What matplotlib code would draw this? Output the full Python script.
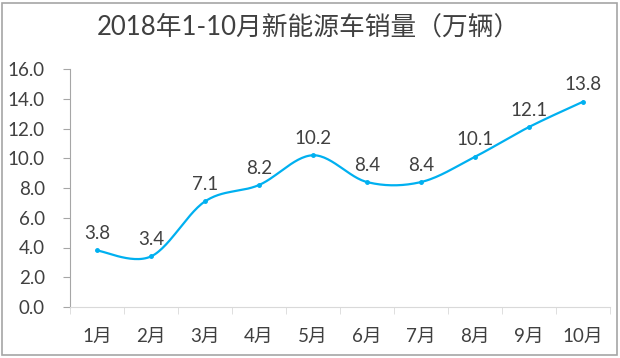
import numpy as np
import matplotlib.pyplot as plt
from matplotlib.patches import Rectangle

# 数据
months = ['1月', '2月', '3月', '4月', '5月', '6月', '7月', '8月', '9月', '10月']
sales = [3.8, 3.4, 7.1, 8.2, 10.2, 8.4, 8.4, 10.1, 12.1, 13.8]
yticks = [0, 2, 4, 6, 8, 10, 12, 14, 16]

plt.rcParams['font.family'] = ['Lato', 'Noto Sans CJK SC', 'DejaVu Sans']
text_color = '#404040'
line_color = '#00B0F0'


# 类似Excel的平滑曲线（三次贝塞尔）
def smooth(xs, ys, n=30):
    xs = np.asarray(xs, float)
    ys = np.asarray(ys, float)
    px = np.concatenate([[xs[0]], xs, [xs[-1]]])
    py = np.concatenate([[ys[0]], ys, [ys[-1]]])
    outx, outy = [], []
    t = np.linspace(0, 1, n)
    for i in range(len(xs) - 1):
        p0 = np.array([px[i + 1], py[i + 1]])
        p3 = np.array([px[i + 2], py[i + 2]])
        p1 = p0 + (np.array([px[i + 2], py[i + 2]]) - np.array([px[i], py[i]])) / 6
        p2 = p3 - (np.array([px[i + 3], py[i + 3]]) - np.array([px[i + 1], py[i + 1]])) / 6
        b = ((1 - t) ** 3)[:, None] * p0 + (3 * (1 - t) ** 2 * t)[:, None] * p1 \
            + (3 * (1 - t) * t ** 2)[:, None] * p2 + (t ** 3)[:, None] * p3
        outx.extend(b[:, 0])
        outy.extend(b[:, 1])
    return outx, outy


fig = plt.figure(figsize=(6.2, 3.58), dpi=100)
ax = fig.add_axes([70 / 620, 1 - 307 / 358, 540 / 620, 238 / 358])

x = np.arange(len(months))
sx, sy = smooth(x, sales)
ax.plot(sx, sy, color=line_color, lw=1.6)
ax.plot(x, sales, 'o', color=line_color, ms=2.5)
for xi, v in zip(x, sales):
    ax.annotate(f'{v:.1f}', (xi, v), xytext=(0, 6), textcoords='offset points',
                ha='center', va='bottom', fontsize=13.5, color=text_color)

ax.set_xlim(-0.5, len(months) - 0.5)
ax.set_ylim(0, 16)
ax.set_yticks(yticks)
ax.set_yticklabels([f'{v:.1f}' for v in yticks], fontsize=13.5, color=text_color)
ax.set_xticks(x)
ax.set_xticklabels(months, fontsize=13.5, color=text_color)
ax.set_xticks(np.arange(-0.5, len(months)), minor=True)
ax.tick_params(axis='x', which='major', length=0, pad=15)
ax.tick_params(axis='x', which='minor', length=5, color='#d9d9d9', direction='out')
ax.tick_params(axis='y', length=5, color='#a6a6a6', pad=13)

for s in ['top', 'right']:
    ax.spines[s].set_visible(False)
ax.spines['left'].set_color('#a6a6a6')
ax.spines['bottom'].set_color('#d9d9d9')

fig.text(0.497, 1 - 27 / 358, '2018年1-10月新能源车销量（万辆）', ha='center', va='center',
         fontsize=18.5, color=text_color)

# 图表外框
fig.patches.append(Rectangle((2 / 620, 3 / 358), 615 / 620, 352 / 358, transform=fig.transFigure,
                             fill=False, edgecolor='#a6a6a6', lw=1.2))

fig.savefig('out.png', dpi=100)
